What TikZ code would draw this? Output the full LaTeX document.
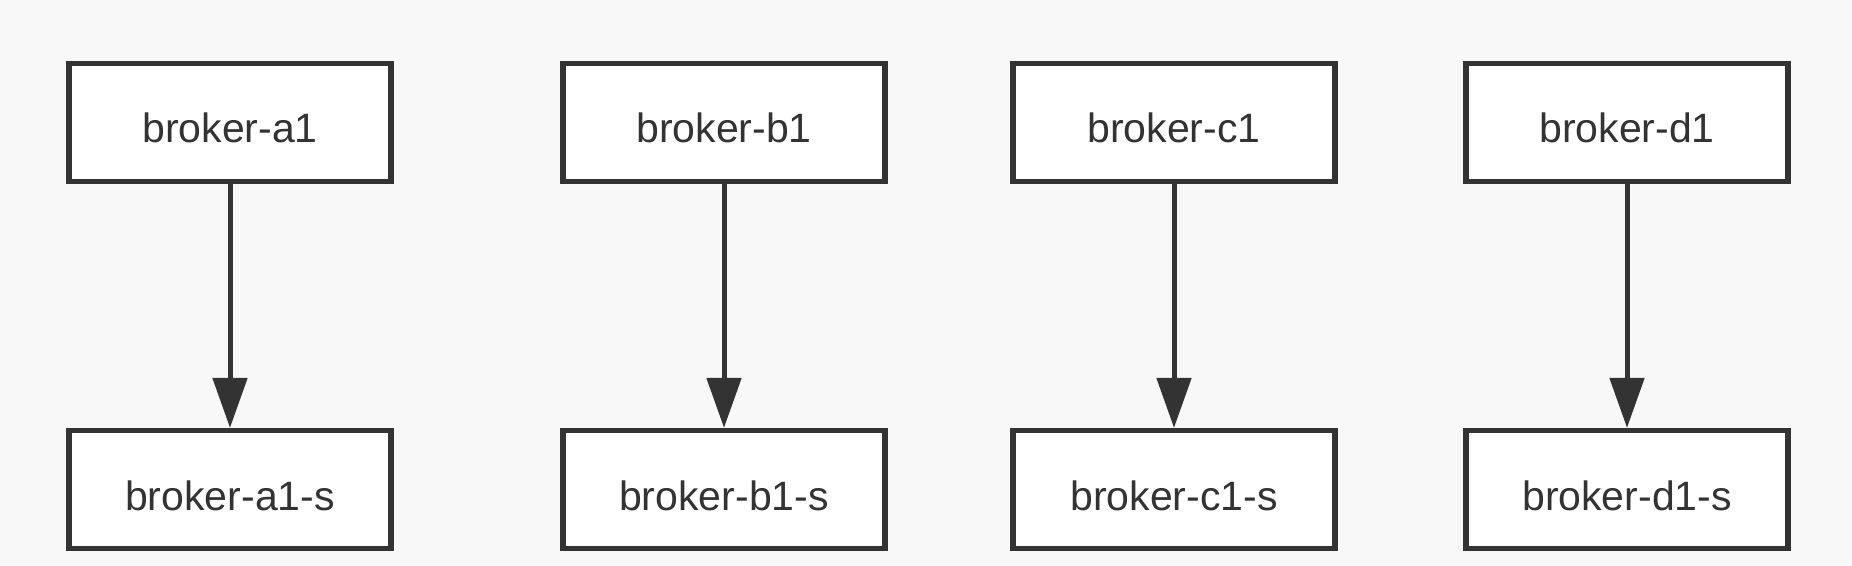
\documentclass[tikz,border=0pt]{standalone}
\usepackage{fontspec}
\setmainfont{Liberation Sans}
\usetikzlibrary{arrows.meta}
\definecolor{bg}{HTML}{F8F8F8}
\definecolor{ink}{HTML}{333333}
\begin{document}
\begin{tikzpicture}
  [x=0.5pt,y=-0.5pt,every node/.style={draw=ink,fill=white,line width=2.6pt,
   minimum width=161pt,minimum height=59pt,inner sep=0pt,text=ink,
   text height=20.5pt,text depth=0pt,font=\fontsize{20.5}{24}\selectfont}]
  \fill[bg] (0,0) rectangle (1852,566);
  \node (a1) at (230,122.5) {broker-a1};
  \node (b1) at (724,122.5) {broker-b1};
  \node (c1) at (1174,122.5) {broker-c1};
  \node (d1) at (1627,122.5) {broker-d1};
  \node (a1s) at (230,489.5) {broker-a1-s};
  \node (b1s) at (724,489.5) {broker-b1-s};
  \node (c1s) at (1174,489.5) {broker-c1-s};
  \node (d1s) at (1627,489.5) {broker-d1-s};
 \path[-{Triangle[length=25pt,width=17pt]}, draw=ink, fill=ink, line width=2.5pt]
        (a1) edge (a1s)
        (b1) edge (b1s)
        (c1) edge (c1s)
        (d1) edge (d1s);

\end{tikzpicture}
\end{document}
